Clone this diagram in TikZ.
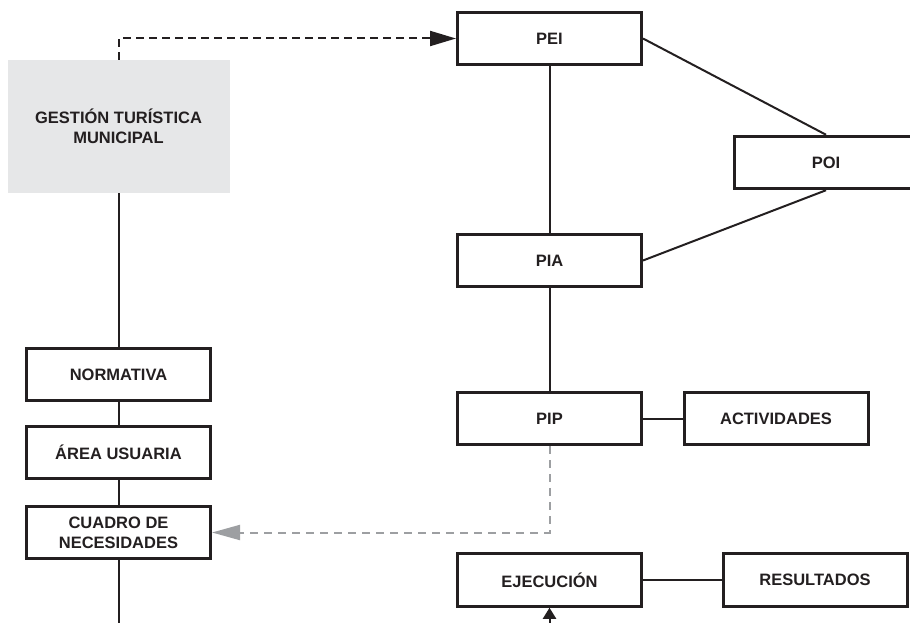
\documentclass[tikz,border=0pt]{standalone}
\usepackage{fontspec}
\setmainfont{Liberation Sans}
\usetikzlibrary{arrows.meta}
\definecolor{ink}{HTML}{231F20}
\definecolor{boxgray}{HTML}{E6E7E8}
\definecolor{dashgray}{HTML}{9D9FA2}
\begin{document}
\begin{tikzpicture}[x=1pt,y=-1pt]
      \useasboundingbox (0,0) rectangle (910,623);
      \clip (0,0) rectangle (910,623);

      \begin{scope}[every node/.style={inner sep=0pt, align=center, text=ink,
          font=\bfseries\fontsize{16.5}{20}\selectfont}]
        \node[fill=boxgray, minimum width=222pt, minimum height=133pt] (gest) at (118.5,126.5) {GESTIÓN TURÍSTICA\\MUNICIPAL};
        \begin{scope}[every node/.append style={draw=ink, line width=3pt, minimum width=184pt, minimum height=52.5pt}]
          \node (pei)  at (549.5,38.5)  {PEI};
          \node (poi)  at (826,162.5)   {POI};
          \node (pia)  at (549.5,260.5) {PIA};
          \node (pip)  at (549.5,418.5) {PIP};
          \node (act)  at (776,418.5)   {ACTIVIDADES};
          \node (ejec) at (549.5,580)   {EJECUCIÓN};
          \node (res)  at (815,580)     {RESULTADOS};
          \node (norm) at (118.5,374.5) {NORMATIVA};
          \node (area) at (118.5,452.5) {ÁREA USUARIA};
          \node (cuad) at (118.5,532.5) {CUADRO DE\\NECESIDADES};
        \end{scope}
      \end{scope}

      \coordinate (lbot) at (118.5,623);
      \coordinate (rbot) at (549.5,623);

      \begin{scope}[every edge/.style={draw=ink, line width=2pt}]
        \path (gest) edge (norm);
        \path (norm) edge (area);
        \path (area) edge (cuad);
        \path (cuad) edge (lbot);
        \path (pei)  edge (pia);
        \path (pei.east) edge (poi.north);
        \path (poi.south) edge (pia.east);
        \path (pia)  edge (pip);
        \path (pip)  edge (act);
        \path (ejec) edge (res);
        \path (rbot) edge[-{Triangle[length=11pt,width=13pt]}] (ejec);
      \end{scope}

      \draw[ink, line width=2pt, dash pattern=on 8pt off 5pt,
        -{Triangle[length=26pt,width=15pt]}] (gest.north) |- (pei.west);
      \draw[dashgray, line width=2pt, dash pattern=on 8pt off 6pt,
        -{Triangle[length=28pt,width=15pt]}] (pip.south) |- (cuad.east);

    \end{tikzpicture}
\end{document}
